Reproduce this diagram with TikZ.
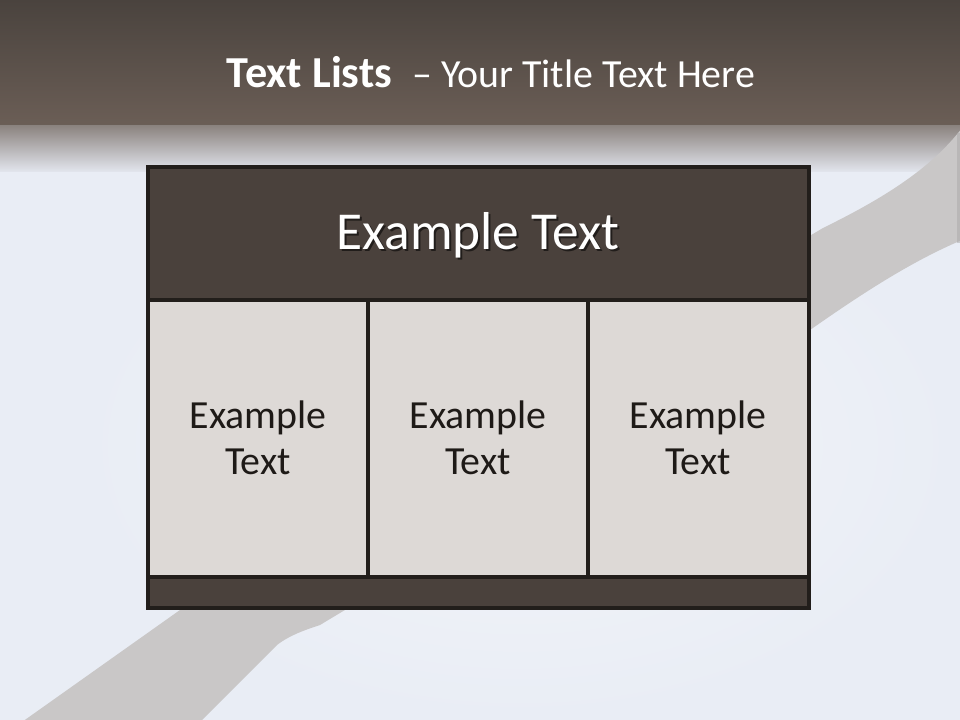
\documentclass[tikz,border=0pt]{standalone}
\usepackage{fontspec}
\setmainfont{Carlito}
\definecolor{hdtop}{HTML}{4A433E}
\definecolor{hdbot}{HTML}{6B5E56}
\definecolor{trtop}{HTML}{8C8480}
\definecolor{trbot}{HTML}{E3E6EE}
\definecolor{bgc}{HTML}{E9EDF5}
\definecolor{bglight}{HTML}{F3F5F9}
\definecolor{band}{HTML}{C9C7C7}
\definecolor{boxdark}{HTML}{4A413C}
\definecolor{boxlight}{HTML}{DDD9D6}
\definecolor{boxline}{HTML}{221E1B}
\definecolor{celltext}{HTML}{1E1A17}
\begin{document}
\begin{tikzpicture}[x=0.75pt,y=-0.75pt,
  panel/.style={draw=boxline,line width=2.3pt},
  celltxt/.style={text=celltext,font=\fontsize{29.9}{34.5}\selectfont,align=center},
  headtxt/.style={text=white,font=\fontsize{40}{46}\selectfont}]
\useasboundingbox (0,0) rectangle (960,720);
% background
\fill[bgc] (0,0) rectangle (960,720);
\shade[inner color=bglight,outer color=bgc] (80,170) rectangle (960,720);
% header band
\shade[top color=hdtop,bottom color=hdbot] (0,0) rectangle (960,126);
\shade[top color=trtop,bottom color=trbot] (0,126) rectangle (960,172);
% diagonal band
\fill[band] (962,128) .. controls (930,170) and (880,200) .. (823,228)
  -- (180,610) -- (22,722) -- (200,722) -- (277,645)
  .. controls (290,635) and (305,630) .. (320,625)
  -- (810,330) .. controls (860,295) and (910,262) .. (962,240) -- cycle;
\fill[band!85!black,opacity=0.5] (957,133) rectangle (960,243);
% title
\node[text=white,anchor=base] (title) at (491,88)
  {\fontsize{33.2}{38}\selectfont\bfseries Text Lists\ \ \mdseries\fontsize{29.9}{36}\selectfont – Your Title Text Here};
% table
\fill[boxdark] (148,167) rectangle (809,300);
\fill[boxlight] (148,300) rectangle (809,577);
\fill[boxdark] (148,577) rectangle (809,608);
\draw[panel] (148,167) rectangle (809,608);
\draw[panel] (148,300) -- (809,300);
\draw[panel] (148,577) -- (809,577);
\draw[panel] (368,300) -- (368,577);
\draw[panel] (588,300) -- (588,577);
\node[headtxt,text=black,opacity=0.55,anchor=base] at (480,251.5) {Example Text};
\node[headtxt,anchor=base] (head) at (478,249.5) {Example Text};
\node[celltxt] (c1) at (258,438) {Example\\Text};
\node[celltxt] (c2) at (478,438) {Example\\Text};
\node[celltxt] (c3) at (698,438) {Example\\Text};
\end{tikzpicture}
\end{document}
